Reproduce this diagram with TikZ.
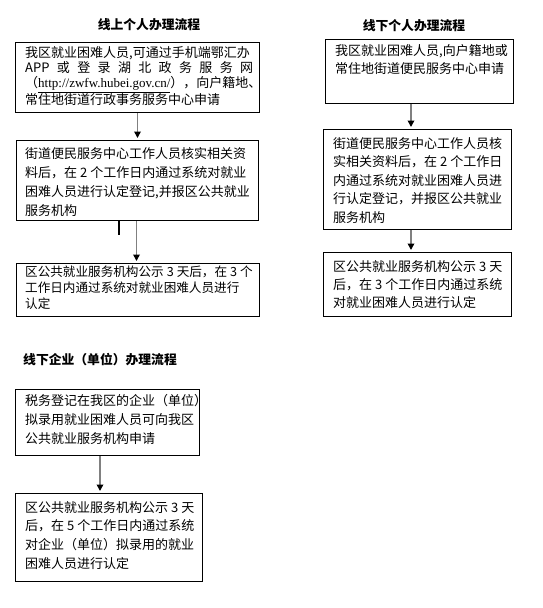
\documentclass[tikz,border=0pt]{standalone}
\usepackage{fontspec}
\setmainfont{Noto Sans CJK SC}
\newfontfamily\urlserif{Liberation Serif}
\usetikzlibrary{arrows.meta,calc}
\newcommand{\nsp}{\hspace{3pt}}
\tikzset{
  box/.style={draw=black, line width=1pt, rectangle, inner sep=0pt, anchor=north west},
  txt/.style={anchor=north west, inner sep=0pt, align=left},
  ttl/.style={inner sep=0pt, font=\fontsize{12.8}{15}\selectfont\bfseries},
  arr/.style={draw=gray, line width=1.8pt, -{Triangle[length=6.5pt,width=6.5pt,color=black]}, shorten >=2pt},
  tick/.style={draw=black, line width=2pt}
}
\begin{document}
\begin{tikzpicture}[x=1pt,y=-1pt]
\useasboundingbox (0,0) rectangle (542,608);
% ---------- left column ----------
\node[ttl] (lt) at (149,25) {线上个人办理流程};
\node[box, minimum width=244pt, minimum height=70pt] (L1) at (15,42) {};
\node[txt, font=\fontsize{13}{15.3}\selectfont] (l1t) at (25,46) {%
我区就业困难人员,可通过手机端鄂汇办\\
\hbox to 228pt{APP\hfill 或\hfill 登\hfill 录\hfill 湖\hfill 北\hfill 政\hfill 务\hfill 服\hfill 务\hfill 网}\\
\hbox to 228pt{（{\urlserif\underline{http://zwfw.hubei.gov.cn/}}），\hfill 向户籍地、}\\
常住地街道行政事务服务中心申请};
\node[box, minimum width=242pt, minimum height=80pt] (L2) at (16,140) {};
\node[txt, font=\fontsize{13}{19}\selectfont] (l2t) at (25,147) {%
街道便民服务中心工作人员核实相关资\\
料后，在\nsp 2\nsp 个工作日内通过系统对就业\\
困难人员进行认定登记,并报区公共就业\\
服务机构};
\node[box, minimum width=243pt, minimum height=53pt] (L3) at (16,263) {};
\node[txt, font=\fontsize{12.6}{16}\selectfont] (l3t) at (25,266) {%
区公共就业服务机构公示\nsp 3\nsp 天后，在\nsp 3\nsp 个\\
\hbox to 226pt{工作日内通过系统对就业困难人员进行}\\
认定};
\draw[arr] (L1.south) -- (L2.north);
\draw[arr] ([xshift=-1pt]L2.south) -- ([xshift=-1.5pt]L3.north);
\draw[tick] ([xshift=103pt]L2.south west) -- ++(0,14);
% ---------- right column ----------
\node[ttl] (rt) at (414,26) {线下个人办理流程};
\node[box, minimum width=188pt, minimum height=64pt] (R1) at (325,39) {};
\node[txt, font=\fontsize{13}{18}\selectfont] (r1t) at (335,44) {%
我区就业困难人员,向户籍地或\\
常住地街道便民服务中心申请};
\node[box, minimum width=188pt, minimum height=100pt] (R2) at (323,129) {};
\node[txt, font=\fontsize{13}{18.5}\selectfont] (r2t) at (333,137) {%
街道便民服务中心工作人员核\\
实相关资料后，在\nsp 2\nsp 个工作日\\
内通过系统对就业困难人员进\\
行认定登记，并报区公共就业\\
服务机构};
\node[box, minimum width=188pt, minimum height=64pt] (R3) at (323,252) {};
\node[txt, font=\fontsize{13}{18}\selectfont] (r3t) at (333,260) {%
区公共就业服务机构公示\nsp 3\nsp 天\\
后，在\nsp 3\nsp 个工作日内通过系统\\
对就业困难人员进行认定};
\draw[arr] ([xshift=86pt]R1.south west) -- ([xshift=88pt]R2.north west);
\draw[arr] ([xshift=88pt]R2.south west) -- ([xshift=88pt]R3.north west);
% ---------- bottom ----------
\node[ttl, anchor=west] (bt) at (23,360) {线下企业（单位）办理流程};
\node[box, minimum width=184pt, minimum height=66pt] (B1) at (15,389) {};
\node[txt, font=\fontsize{13}{19}\selectfont] (b1t) at (25,394) {%
税务登记在我区的企业（单位）\\
拟录用就业困难人员可向我区\\
公共就业服务机构申请};
\node[box, minimum width=187pt, minimum height=88pt] (B2) at (15,493) {};
\node[txt, font=\fontsize{13}{18.7}\selectfont] (b2t) at (25,501) {%
区公共就业服务机构公示\nsp 3\nsp 天\\
后，在\nsp 5\nsp 个工作日内通过系统\\
对企业（单位）拟录用的就业\\
困难人员进行认定};
\draw[arr] ([xshift=85pt]B1.south west) -- ([xshift=85pt]B2.north west);
\end{tikzpicture}
\end{document}
